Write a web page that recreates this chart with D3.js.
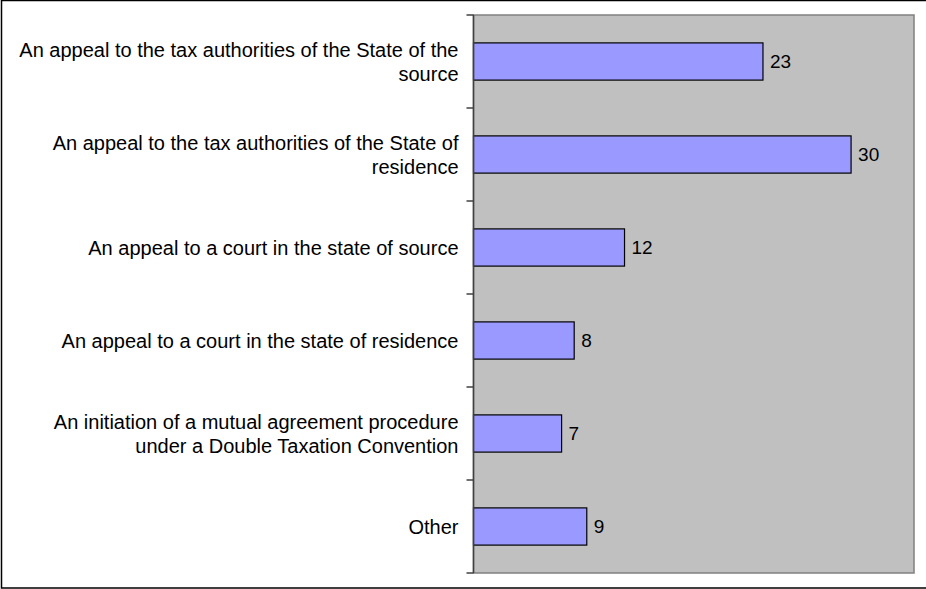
<!DOCTYPE html>
<html>
<head>
<meta charset="utf-8">
<script src="https://cdn.jsdelivr.net/npm/d3@7"></script>
<style>
  html, body { margin: 0; padding: 0; background: #fff; }
  svg { display: block; }
  text { font-family: "Liberation Sans", Arial, sans-serif; fill: #000; }
</style>
</head>
<body>
<svg id="chart" width="926" height="589"></svg>
<script>
const categories = [
  ["An appeal to the tax authorities of the State of the", "source"],
  ["An appeal to the tax authorities of the State of", "residence"],
  ["An appeal to a court in the state of source"],
  ["An appeal to a court in the state of residence"],
  ["An initiation of a mutual agreement procedure", "under a Double Taxation Convention"],
  ["Other"]
];
const values = [23, 30, 12, 8, 7, 9];
const xMax = 35;

const svg = d3.select("#chart");
const plot = { left: 473.5, top: 15, right: 914, bottom: 573 };
const labelFont = 20;
const valueFont = 19;

// outer border
svg.append("rect")
  .attr("x", 1.5).attr("y", 0.5)
  .attr("width", 940).attr("height", 587.5)
  .attr("fill", "#fff").attr("stroke", "#000").attr("stroke-width", 1.5);

const x = d3.scaleLinear().domain([0, xMax]).range([plot.left, plot.right]);
const y = d3.scaleBand().domain(d3.range(categories.length))
  .range([plot.top, plot.bottom]).paddingInner(0.6).paddingOuter(0.3);

// plot area
svg.append("rect")
  .attr("x", plot.left).attr("y", plot.top)
  .attr("width", plot.right - plot.left).attr("height", plot.bottom - plot.top)
  .attr("fill", "#C0C0C0").attr("stroke", "#808080").attr("stroke-width", 1.5);

// bars
svg.append("g").selectAll("rect")
  .data(values)
  .join("rect")
  .attr("x", x(0))
  .attr("y", (d, i) => y(i))
  .attr("width", d => x(d) - x(0))
  .attr("height", y.bandwidth())
  .attr("fill", "#9999FF")
  .attr("stroke", "#000")
  .attr("stroke-width", 1.2);

// value labels
svg.append("g").selectAll("text")
  .data(values)
  .join("text")
  .attr("x", d => x(d) + 7)
  .attr("y", (d, i) => y(i) + y.bandwidth() / 2)
  .attr("dy", "0.35em")
  .attr("font-size", valueFont)
  .text(d => d);

// axis line and ticks (ticks at category boundaries)
const step = y.step();
const tickYs = d3.range(categories.length + 1).map(i => plot.top + i * step);
const axisG = svg.append("g");
axisG.append("line")
  .attr("x1", plot.left).attr("x2", plot.left)
  .attr("y1", plot.top).attr("y2", plot.bottom)
  .attr("stroke", "#404040").attr("stroke-width", 1.5);
axisG.selectAll("line.tick")
  .data(tickYs)
  .join("line")
  .attr("class", "tick")
  .attr("x1", plot.left - 7).attr("x2", plot.left)
  .attr("y1", d => d).attr("y2", d => d)
  .attr("stroke", "#404040").attr("stroke-width", 1.5);

// category labels
const lineH = 24;
const labelG = svg.append("g");
categories.forEach((lines, i) => {
  const cy = y(i) + y.bandwidth() / 2;
  const t = labelG.append("text")
    .attr("text-anchor", "end")
    .attr("font-size", labelFont);
  lines.forEach((ln, j) => {
    const off = (j - (lines.length - 1) / 2) * lineH;
    t.append("tspan")
      .attr("x", plot.left - 15)
      .attr("y", cy + off)
      .attr("dy", "0.35em")
      .text(ln);
  });
});
</script>
</body>
</html>
